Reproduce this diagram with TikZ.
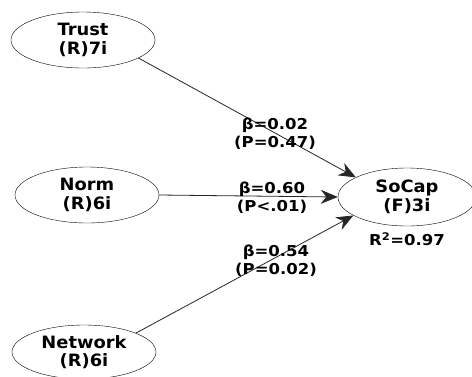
\documentclass[tikz,border=0pt]{standalone}
\usepackage{fontspec}
\setmainfont{DejaVu Sans}
\newfontfamily\latentfont[FakeStretch=1.05]{DejaVu Sans}
\newfontfamily\coeffont[FakeStretch=1.1]{DejaVu Sans}
\usepackage{tikz}
\usetikzlibrary{arrows.meta,positioning,shapes.geometric}
\tikzset{
  latent/.style={ellipse,draw=black,fill=white,inner sep=0pt,minimum width=144pt,
    minimum height=56pt,align=center,font=\latentfont\fontsize{17}{18.5}\selectfont\bfseries},
  coef/.style={align=center,inner sep=0pt,font=\coeffont\fontsize{15}{18}\selectfont\bfseries},
  path/.style={-{Stealth[length=17pt,width=14pt]},draw=black!85,line width=0.8pt}
}
\begin{document}
\begin{tikzpicture}[x=1pt,y=-1pt]
  \useasboundingbox[fill=white] (0,0) rectangle (472,376);
  \node[latent] (trust) at (83,40) {Trust\\(R)7i};
  \node[latent] (norm) at (87,195) {Norm\\(R)6i};
  \node[latent,minimum height=54pt] (network) at (84,352) {Network\\(R)6i};
  \node[latent,minimum width=138pt,minimum height=58pt] (socap) at (407,197) {SoCap\\(F)3i};
  \draw[path] (trust.-18) -- (socap.159);
  \draw[path] (norm.east) -- (socap.west);
  \draw[path] (network.20) -- (socap.199);
  \node[coef] (b1) at (275,134) {β=0.02\\(P=0.47)};
  \node[coef] (b2) at (272,198) {β=0.60\\(P<.01)};
  \node[coef] (b3) at (276,261) {β=0.54\\(P=0.02)};
  \node[coef,below=6pt of socap] (r2) {R\textsuperscript{2}=0.97};
\end{tikzpicture}
\end{document}
